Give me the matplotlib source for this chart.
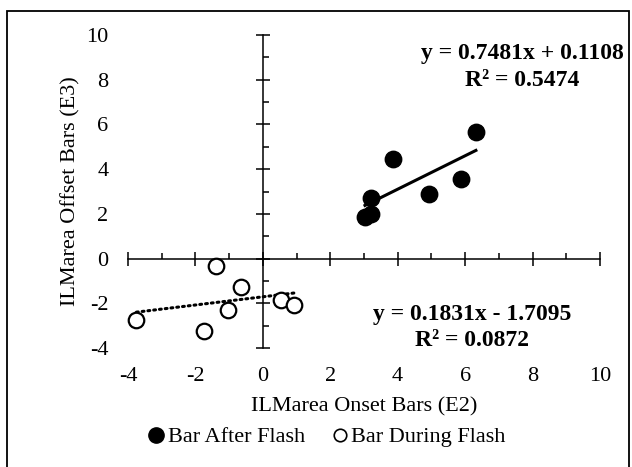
import matplotlib
matplotlib.use("Agg")
import matplotlib.pyplot as plt
from matplotlib.lines import Line2D
from matplotlib.patches import Rectangle
import numpy as np

plt.rcParams['font.family'] = ['Liberation Serif', 'DejaVu Serif']
plt.rcParams['axes.unicode_minus'] = False

# ILMarea onset (E2) vs offset (E3)
after_x = [6.32, 3.87, 5.89, 4.94, 3.22, 3.22, 3.03]
after_y = [5.65, 4.44, 3.56, 2.88, 2.70, 2.00, 1.85]
during_x = [-1.39, -0.65, 0.55, 0.93, -1.03, -3.75, -1.75]
during_y = [-0.31, -1.27, -1.85, -2.06, -2.30, -2.74, -3.26]

# linear fits (slope, intercept, r squared)
after_fit = (0.7481, 0.1108, 0.5474)
during_fit = (0.1831, -1.7095, 0.0872)

ticks = [-4, -2, 0, 2, 4, 6, 8, 10]
minor = [-3, -1, 1, 3, 5, 7, 9]

fig = plt.figure(figsize=(6.32, 4.67), dpi=100)
rect = [0.2025, 0.2548, 0.7468, 0.6702]

# tick labels sit on the outer edge, axes cross at zero
lab = fig.add_axes(rect)
lab.set_xlim(-4, 10)
lab.set_ylim(-4, 10)
lab.set_xticks(ticks)
lab.set_yticks(ticks)
lab.tick_params(length=0, labelsize=16)
lab.tick_params(axis='y', pad=14)
lab.tick_params(axis='x', pad=14)
for s in lab.spines.values():
    s.set_visible(False)
lab.patch.set_visible(False)
lab.set_xlabel('ILMarea Onset Bars (E2)', fontsize=16, labelpad=8)
lab.set_ylabel('ILMarea Offset Bars (E3)', fontsize=16, labelpad=4)

ax = fig.add_axes(rect)
ax.patch.set_visible(False)
ax.set_xlim(-4, 10)
ax.set_ylim(-4, 10)
ax.spines['left'].set_position(('data', 0))
ax.spines['bottom'].set_position(('data', 0))
ax.spines['top'].set_visible(False)
ax.spines['right'].set_visible(False)
for s in ('left', 'bottom'):
    ax.spines[s].set_linewidth(1.1)
ax.set_xticks(ticks)
ax.set_yticks(ticks)
ax.set_xticks(minor, minor=True)
ax.set_yticks(minor, minor=True)
ax.tick_params(which='major', direction='inout', length=10, width=1.1,
               labelbottom=False, labelleft=False)
ax.tick_params(which='minor', direction='in', length=4.5, width=1.1)

ax.scatter(after_x, after_y, s=140, c='black', zorder=3, clip_on=False)
ax.scatter(during_x, during_y, s=125, facecolors='white', edgecolors='black',
           linewidths=1.6, zorder=3, clip_on=False)

xa = np.array([min(after_x), max(after_x)])
ax.plot(xa, after_fit[0] * xa + after_fit[1], color='black', lw=2.2, zorder=2)
xd = np.array([min(during_x), max(during_x)])
ax.plot(xd, during_fit[0] * xd + during_fit[1], color='black', lw=2.2,
        linestyle=(0, (0.6, 1.3)), dash_capstyle='round', zorder=2)

def eq_text(m, b, r2):
    sign = '+' if b >= 0 else '-'
    return 'y = %.4fx %s %.4f\nR² = %.4f' % (m, sign, abs(b), r2)

fig.text(0.826, 0.856, eq_text(*after_fit), ha='center', va='center',
         fontsize=17, fontweight='bold', linespacing=1.35)
fig.text(0.747, 0.299, eq_text(*during_fit), ha='center', va='center',
         fontsize=17, fontweight='bold', linespacing=1.35)

handles = [
    Line2D([], [], marker='o', ls='none', color='black', markersize=11),
    Line2D([], [], marker='o', ls='none', markerfacecolor='white',
           markeredgecolor='black', markeredgewidth=1.2, markersize=9),
]
fig.legend(handles, ['Bar After Flash', 'Bar During Flash'], ncol=2,
           loc='center', bbox_to_anchor=(0.515, 0.064), frameon=False,
           fontsize=16, handletextpad=0.0, columnspacing=1.1, handlelength=1.0)

fig.patches.append(Rectangle((0.011, -0.02), 0.984, 0.996, transform=fig.transFigure,
                             fill=False, edgecolor='black', linewidth=1.3))

fig.savefig('out.png', dpi=100)
